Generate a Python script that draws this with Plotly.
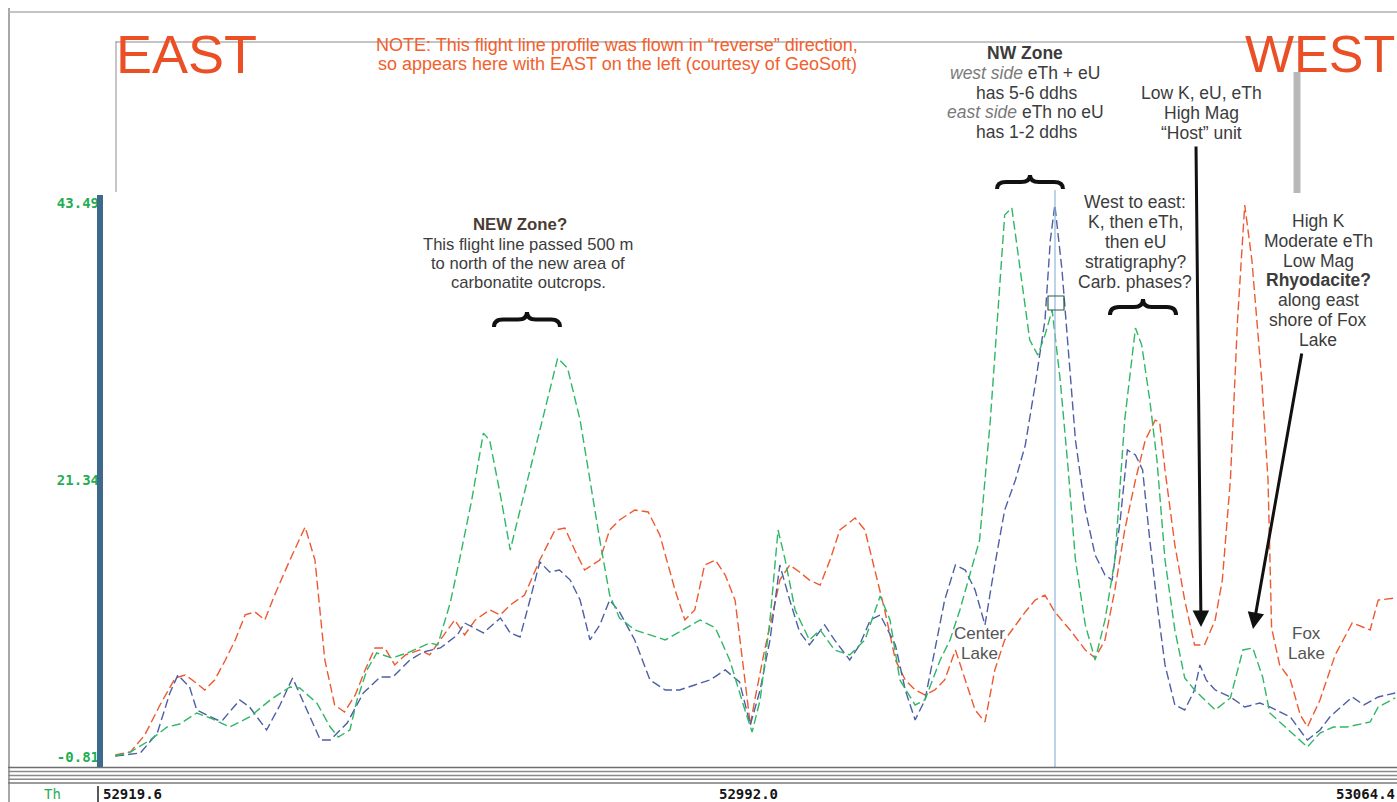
import plotly.graph_objects as go

# ---------------- data (read from the profile) ----------------
x_red = [52921.3, 52923.0, 52924.6, 52926.3, 52928.0, 52929.1, 52930.2, 52931.3, 52932.4, 52933.6,
         52934.7, 52935.8, 52936.9, 52938.0, 52939.1, 52940.8, 52942.5, 52943.6, 52944.7, 52945.8,
         52946.9, 52948.1, 52949.2, 52950.3, 52951.4, 52952.5, 52953.7, 52955.3, 52956.4, 52957.6,
         52959.2, 52960.3, 52961.5, 52963.1, 52964.3, 52965.4, 52967.0, 52968.7, 52970.4, 52971.5,
         52972.6, 52973.7, 52975.4, 52976.5, 52977.6, 52979.3, 52980.8, 52982.1, 52983.8, 52984.9,
         52986.0, 52987.1, 52988.3, 52989.4, 52990.5, 52991.6, 52992.2, 52992.7, 52993.8, 52994.6,
         52995.5, 52996.6, 52997.7, 52998.8, 53000.0, 53001.1, 53002.2, 53003.9, 53005.0, 53006.1,
         53007.2, 53008.4, 53009.5, 53010.6, 53011.7, 53012.8, 53013.9, 53015.1, 53016.2, 53017.3,
         53018.4, 53019.5, 53020.6, 53021.8, 53022.9, 53024.0, 53025.1, 53026.2, 53027.9, 53029.6,
         53030.7, 53031.8, 53032.9, 53034.0, 53035.2, 53036.3, 53037.4, 53037.9, 53038.5, 53039.6,
         53040.7, 53041.8, 53042.9, 53044.1, 53044.9, 53045.8, 53046.6, 53047.4, 53048.2, 53049.3,
         53050.0, 53050.4, 53051.3, 53052.5, 53053.6, 53054.4, 53055.8, 53057.5, 53059.4, 53061.4,
         53062.3, 53064.2]
y_red = [-0.65, -0.41, 0.95, 3.35, 5.51, 5.75, 5.19, 4.55, 5.35, 6.95,
         8.55, 10.55, 10.79, 10.15, 12.14, 14.94, 17.58, 14.94, 6.95, 3.35,
         2.79, 4.15, 6.15, 7.91, 7.91, 6.55, 7.35, 7.75, 7.35, 8.55,
         10.15, 8.95, 10.15, 10.95, 10.55, 11.35, 12.14, 14.94, 17.34, 17.50,
         15.74, 14.14, 14.94, 17.34, 18.14, 18.94, 18.78, 16.94, 12.54, 10.15,
         10.95, 14.54, 14.94, 13.74, 11.74, 5.35, 1.75, 3.75, 7.75, 10.31,
         13.34, 14.54, 13.98, 13.34, 12.94, 14.94, 17.34, 18.30, 17.34, 14.14,
         10.95, 6.95, 5.35, 4.55, 4.15, 4.55, 5.35, 7.75, 5.35, 2.95,
         1.99, 6.15, 8.55, 9.75, 10.79, 11.74, 12.14, 10.79, 9.35, 7.75,
         7.11, 8.55, 12.54, 17.34, 21.34, 24.53, 26.13, 25.97, 22.14, 16.14,
         11.74, 8.15, 8.15, 10.15, 13.34, 21.34, 34.13, 43.33, 38.93, 29.33,
         21.34, 9.51, 6.55, 5.35, 2.55, 1.59, 3.75, 7.35, 9.91, 9.35,
         11.74, 11.90]

x_green = [52921.3, 52923.0, 52925.2, 52927.1, 52928.5, 52930.4, 52931.9, 52934.1, 52936.3, 52938.6,
           52940.8, 52941.9, 52943.8, 52945.3, 52946.2, 52947.5, 52948.3, 52949.4, 52950.5, 52952.2,
           52954.2, 52956.4, 52957.3, 52958.7, 52959.8, 52961.1, 52962.4, 52963.1, 52964.3, 52965.4,
           52966.5, 52967.6, 52969.3, 52970.7, 52971.8, 52973.2, 52974.3, 52975.4, 52976.5, 52977.6,
           52979.3, 52981.0, 52982.7, 52984.3, 52986.6, 52988.3, 52989.9, 52991.6, 52992.4, 52993.3,
           52994.4, 52995.3, 52996.1, 52997.2, 52998.8, 53000.0, 53001.6, 53003.3, 53005.0, 53006.7,
           53007.8, 53008.9, 53010.6, 53011.7, 53013.4, 53014.5, 53015.6, 53016.7, 53017.8, 53019.0,
           53020.1, 53020.6, 53021.4, 53022.3, 53023.4, 53024.3, 53025.1, 53025.9, 53026.8, 53027.7,
           53028.5, 53029.6, 53030.7, 53031.8, 53032.9, 53034.0, 53035.2, 53035.9, 53036.8, 53037.6,
           53038.5, 53039.6, 53040.7, 53041.8, 53042.9, 53044.1, 53045.8, 53047.2, 53048.3, 53049.4,
           53050.2, 53052.1, 53054.4, 53055.8, 53057.3, 53058.8, 53061.4, 53062.3, 53064.2]
y_green = [-0.73, -0.41, 0.55, 1.59, 1.83, 2.71, 2.31, 1.59, 2.39, 3.75,
           4.79, 4.71, 3.51, 1.59, 0.79, 1.35, 3.75, 6.15, 7.51, 7.11,
           7.59, 8.31, 8.15, 11.51, 15.18, 19.74, 25.09, 24.53, 20.14, 15.74,
           18.94, 22.14, 26.93, 31.09, 30.29, 26.13, 21.34, 16.54, 12.14, 10.31,
           9.35, 8.95, 8.55, 9.19, 10.15, 9.51, 6.95, 2.95, 1.19, 3.75,
           10.15, 17.34, 14.94, 10.95, 8.55, 9.35, 7.75, 7.35, 8.55, 12.06,
           10.15, 5.35, 3.35, 3.75, 6.95, 8.55, 10.95, 13.74, 16.54, 26.13,
           37.33, 42.53, 43.09, 38.53, 32.53, 31.33, 32.93, 34.93, 29.33, 22.14,
           14.94, 9.75, 6.95, 10.15, 14.94, 26.13, 33.49, 32.13, 27.73, 22.94,
           14.94, 9.35, 5.51, 4.55, 3.75, 2.95, 3.91, 7.75, 7.91, 5.59,
           2.71, 1.51, -0.01, 1.11, 1.59, 1.59, 1.99, 3.19, 3.91]

x_blue = [52921.3, 52924.1, 52926.0, 52927.4, 52928.3, 52929.6, 52930.4, 52932.7, 52933.3, 52935.2,
          52936.3, 52938.2, 52939.7, 52941.1, 52942.7, 52944.2, 52945.3, 52947.2, 52949.0, 52950.9,
          52952.3, 52954.2, 52955.7, 52957.6, 52959.5, 52960.3, 52962.4, 52964.3, 52965.4, 52966.5,
          52967.6, 52968.7, 52969.8, 52970.9, 52972.1, 52973.2, 52974.3, 52975.4, 52976.5, 52977.6,
          52979.3, 52981.0, 52982.7, 52984.3, 52986.0, 52987.7, 52989.4, 52991.0, 52992.2, 52993.3,
          52994.4, 52995.5, 52996.6, 52997.7, 52998.8, 53000.5, 53001.6, 53003.3, 53004.4, 53005.6,
          53006.7, 53008.4, 53009.5, 53010.6, 53011.7, 53012.8, 53013.9, 53015.1, 53016.2, 53017.3,
          53018.4, 53019.5, 53020.6, 53021.8, 53022.9, 53024.0, 53025.1, 53025.7, 53026.2, 53027.0,
          53027.7, 53028.5, 53029.6, 53030.7, 53031.8, 53032.6, 53033.5, 53034.3, 53035.2, 53036.0,
          53036.8, 53037.7, 53038.5, 53039.6, 53040.7, 53041.8, 53042.4, 53043.1, 53044.1, 53045.8,
          53047.4, 53049.1, 53050.2, 53052.5, 53053.8, 53054.4, 53055.8, 53056.9, 53059.4, 53060.7,
          53062.3, 53064.2]
y_blue = [-0.73, -0.49, 1.11, 4.31, 5.75, 4.79, 2.95, 2.15, 2.15, 3.75,
          3.19, 1.35, 3.35, 5.51, 2.95, 0.55, 0.55, 1.91, 4.31, 5.59,
          5.59, 6.95, 7.59, 7.91, 8.95, 9.91, 9.11, 10.31, 9.11, 8.79,
          11.74, 14.78, 13.98, 14.14, 13.34, 11.74, 8.55, 9.75, 11.74, 10.79,
          8.55, 5.35, 4.55, 4.55, 4.95, 5.35, 6.15, 5.19, 1.75, 4.55,
          8.55, 14.54, 11.74, 9.19, 8.15, 9.75, 8.55, 6.95, 8.15, 10.15,
          10.55, 8.15, 4.55, 2.15, 3.75, 7.75, 11.74, 14.54, 14.14, 12.54,
          9.75, 14.54, 18.94, 21.34, 24.13, 28.93, 34.13, 40.53, 43.33, 38.13,
          31.73, 24.53, 18.94, 15.34, 13.74, 13.34, 18.14, 23.74, 23.34, 22.14,
          16.54, 10.95, 6.55, 3.35, 2.95, 4.55, 6.55, 5.35, 4.55, 3.99,
          3.19, 3.51, 3.19, 2.39, 1.11, 0.55, 1.35, 2.39, 3.99, 3.35,
          3.99, 4.31]

y_tick_vals = [43.49, 21.34, -0.81]
y_tick_text = ["43.49", "21.34", "-0.81"]
x_tick_vals = [52919.6, 52992.0, 53064.4]
x_tick_text = ["52919.6", "52992.0", "53064.4"]
channel_name = "Th"

# ---------------- layout helpers ----------------
W, H = 1397, 802
ML, MR, MT, MB = 100, 0, 203, 45
PW, PH = W - ML - MR, H - MT - MB


def px(x):
    return (x - ML) / PW


def py(y):
    return (H - MB - y) / PH


RED = "#ee5a30"
GREEN = "#2fb766"
BLUE = "#4d5fa5"
TXT = "#3c3c3c"
FONT = "Liberation Sans, Arial, sans-serif"

fig = go.Figure()
for xs, ys, col in [(x_red, y_red, RED), (x_blue, y_blue, BLUE), (x_green, y_green, GREEN)]:
    fig.add_trace(go.Scatter(x=xs, y=ys, mode="lines",
                             line=dict(color=col, width=1.4, dash="9px,4px"),
                             hoverinfo="skip", showlegend=False))

shapes = []


def hline(y, x0, x1, color, width):
    shapes.append(dict(type="line", xref="paper", yref="paper", x0=px(x0), x1=px(x1),
                       y0=py(y), y1=py(y), line=dict(color=color, width=width)))


def vline(x, y0, y1, color, width):
    shapes.append(dict(type="line", xref="paper", yref="paper", x0=px(x), x1=px(x),
                       y0=py(y0), y1=py(y1), line=dict(color=color, width=width)))


# outer frame
vline(9, 8, 802, "#a8a8a8", 2)
hline(12, 8, 1397, "#b0b0b0", 1.5)
# header box lines
vline(116, 41, 192, "#a0a0a0", 1.2)
hline(42, 116, 1300, "#8c8c8c", 1.2)
vline(1297, 72, 193, "#b8b8b8", 7)
# cursor
vline(1055, 190, 767, "#8fb6d8", 1.2)
shapes.append(dict(type="rect", xref="paper", yref="paper", x0=px(1048), x1=px(1064),
                   y0=py(310), y1=py(296), line=dict(color="#2a5a50", width=1.2)))
# y-axis bar
vline(100, 195, 767, "#3d6a8a", 6)
# bottom bands
for yy, c in [(767.5, "#6e6e6e"), (771.5, "#8a8a8a"), (775.5, "#8a8a8a"), (779.3, "#8a8a8a"), (783, "#7a7a7a")]:
    hline(yy, 8, 1397, c, 1.6)
vline(98, 786, 802, "#222222", 1.5)


def brace(cx, ytop, w, h):
    l, r = cx - w / 2, cx + w / 2
    mid = ytop + h * 0.5
    pts = [("M", [(l, ytop + h)]), ("Q", [(l, mid), (l + 9, mid)]), ("L", [(cx - 9, mid)]),
           ("Q", [(cx, mid), (cx, ytop)]), ("Q", [(cx, mid), (cx + 9, mid)]), ("L", [(r - 9, mid)]),
           ("Q", [(r, mid), (r, ytop + h)])]
    s = ""
    for cmd, pl in pts:
        s += cmd + " " + " ".join(f"{px(a):.5f},{py(b):.5f}" for a, b in pl) + " "
    shapes.append(dict(type="path", xref="paper", yref="paper", path=s.strip(),
                       line=dict(color="#111111", width=4)))


brace(527, 312, 66, 15)
brace(1030, 175, 66, 14)
brace(1143, 299, 66, 16)

annotations = []


def text(t, x, y, size=17.5, color=TXT, xanchor="center", family=FONT):
    annotations.append(dict(text=t, xref="paper", yref="paper", x=px(x), y=py(y),
                            xanchor=xanchor, yanchor="middle", showarrow=False,
                            font=dict(family=family, size=size, color=color)))


text("EAST", 114, 54, size=54, color="#ea4f25", xanchor="left")
text("WEST", 1243, 54, size=52, color="#ea4f25", xanchor="left")
text("NOTE: This flight line profile was flown in “reverse” direction,", 617, 45, size=18, color="#f2602c")
text("so appears here with EAST on the left (courtesy of GeoSoft)", 617, 64, size=18, color="#f2602c")

text("<b>NW Zone</b>", 1025, 53)
text("<span style='color:#7a7a7a'><i>west side</i></span> eTh + eU", 1025, 73)
text("has 5-6 ddhs", 1026, 93)
text("<span style='color:#7a7a7a'><i>east side</i></span> eTh no eU", 1025, 112)
text("has 1-2 ddhs", 1026, 132)

text("Low K, eU, eTh", 1201, 93)
text("High Mag", 1201, 113)
text("“Host” unit", 1201, 133)

for i, t in enumerate(["West to east:", "K, then eTh,", "then eU", "stratigraphy?", "Carb. phases?"]):
    text(t, 1135, 202 + 20 * i)

for i, t in enumerate(["High K", "Moderate eTh", "Low Mag", "<b>Rhyodacite?</b>", "along east",
                       "shore of Fox", "Lake"]):
    text(t, 1318, 221 + 19.8 * i)

text("<b>NEW Zone?</b>", 520, 224, size=16.8, color="#4a3c34")
for i, t in enumerate(["This flight line passed 500 m", "to north of the new area of",
                       "carbonatite outcrops."]):
    text(t, 528, 244 + 19 * i, size=16.6)

text("Center", 979, 633, size=17, color="#555555")
text("Lake", 979, 653, size=17, color="#555555")
text("Fox", 1306, 633, size=17, color="#555555")
text("Lake", 1306, 653, size=17, color="#555555")

# arrows
for (hx, hy, tx, ty) in [(1201, 627, 1196, 145), (1253, 629, 1302, 352)]:
    annotations.append(dict(text="", xref="paper", yref="paper", x=px(hx), y=py(hy),
                            axref="pixel", ayref="pixel", ax=tx - hx, ay=ty - hy,
                            showarrow=True, arrowhead=2, arrowsize=1.1, arrowwidth=3,
                            arrowcolor="#111111"))

# x labels
for v, t, anc in zip(x_tick_vals, x_tick_text, ["left", "center", "right"]):
    annotations.append(dict(text="<b>" + t + "</b>", xref="x", yref="paper", x=v, y=py(794),
                            xanchor=anc, yanchor="middle", showarrow=False,
                            xshift=1 if anc == "left" else 0,
                            font=dict(family="DejaVu Sans Mono", size=14, color="#151515")))
text(channel_name, 52, 794, size=14, color="#1fae55", family="DejaVu Sans Mono")

fig.update_layout(
    width=W, height=H, margin=dict(l=ML, r=MR, t=MT, b=MB),
    paper_bgcolor="white", plot_bgcolor="white",
    shapes=shapes, annotations=annotations, showlegend=False,
    xaxis=dict(range=[x_tick_vals[0], x_tick_vals[-1]], showgrid=False, zeroline=False,
               showticklabels=False, ticks="", showline=False),
    yaxis=dict(range=[y_tick_vals[-1], y_tick_vals[0]], showgrid=False, zeroline=False,
               tickvals=y_tick_vals, ticktext=y_tick_text, ticks="", showline=False,
               tickfont=dict(family="DejaVu Sans Mono", size=14, color="#1fae55", weight="bold")),
)

# remove the default 8 px page margin so the 1397x802 figure fills the window exactly
fig.write_html("out.html", config={"displayModeBar": False},
               post_script="document.body.style.margin='0';document.body.style.overflow='hidden';")
